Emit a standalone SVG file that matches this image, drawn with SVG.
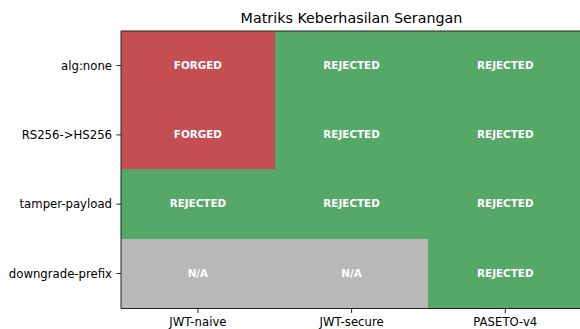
<svg xmlns="http://www.w3.org/2000/svg" width="580" height="329" viewBox="0 0 580 329">
<style>
.f{font-family:"DejaVu Sans","Liberation Sans",sans-serif}
.c{font-size:10.4px;font-weight:bold;fill:#fff;text-anchor:middle}
.yl{font-size:11.7px;fill:#000;text-anchor:end}
.xl{font-size:11.7px;fill:#000;text-anchor:middle}
.r{fill:#c44e52}.g{fill:#55a868}.n{fill:#b8b8b8}
rect.r,rect.g,rect.n{shape-rendering:crispEdges}
.tk{stroke:#222;stroke-width:1}
</style>
<rect width="580" height="329" fill="#fff"/>
<text class="f" x="351.5" y="23.3" font-size="14.3" text-anchor="middle" fill="#000">Matriks Keberhasilan Serangan</text>
<g id="cells">
<g id="c00"><rect class="r" x="121" y="31" width="154" height="70"/><text class="f c" x="197.9" y="68.8">FORGED</text></g>
<g id="c01"><rect class="g" x="275" y="31" width="154" height="70"/><text class="f c" x="351.6" y="68.8">REJECTED</text></g>
<g id="c02"><rect class="g" x="428" y="31" width="154" height="70"/><text class="f c" x="505.3" y="68.8">REJECTED</text></g>
<g id="c10"><rect class="r" x="121" y="100" width="154" height="70"/><text class="f c" x="197.9" y="138.1">FORGED</text></g>
<g id="c11"><rect class="g" x="275" y="100" width="154" height="70"/><text class="f c" x="351.6" y="138.1">REJECTED</text></g>
<g id="c12"><rect class="g" x="428" y="100" width="154" height="70"/><text class="f c" x="505.3" y="138.1">REJECTED</text></g>
<g id="c20"><rect class="g" x="121" y="169" width="154" height="71"/><text class="f c" x="197.9" y="207.4">REJECTED</text></g>
<g id="c21"><rect class="g" x="274" y="169" width="155" height="71"/><text class="f c" x="351.6" y="207.4">REJECTED</text></g>
<g id="c22"><rect class="g" x="428" y="169" width="154" height="71"/><text class="f c" x="505.3" y="207.4">REJECTED</text></g>
<g id="c30"><rect class="n" x="121" y="239" width="154" height="69"/><text class="f c" x="197.9" y="276.7">N/A</text></g>
<g id="c31"><rect class="n" x="274" y="239" width="154" height="69"/><text class="f c" x="351.6" y="276.7">N/A</text></g>
<g id="c32"><rect class="g" x="428" y="239" width="154" height="69"/><text class="f c" x="505.3" y="276.7">REJECTED</text></g>
</g>
<g id="axes">
<path class="tk" fill="none" d="M121,308.5 V31 H581 M121,308.5 H581"/>
<path class="tk" d="M116.4,65.6H121 M116.4,134.9H121 M116.4,204.2H121 M116.4,273.5H121 M197.9,308.5V313 M351.6,308.5V313 M505.3,308.5V313"/>
<text class="f yl" x="112" y="69.8">alg:none</text>
<text class="f yl" x="112" y="139.1">RS256-&gt;HS256</text>
<text class="f yl" x="112" y="208.4">tamper-payload</text>
<text class="f yl" x="112" y="277.7">downgrade-prefix</text>
<text class="f xl" x="197.9" y="326">JWT-naive</text>
<text class="f xl" x="351.6" y="326">JWT-secure</text>
<text class="f xl" x="505.3" y="326">PASETO-v4</text>
</g>
</svg>
